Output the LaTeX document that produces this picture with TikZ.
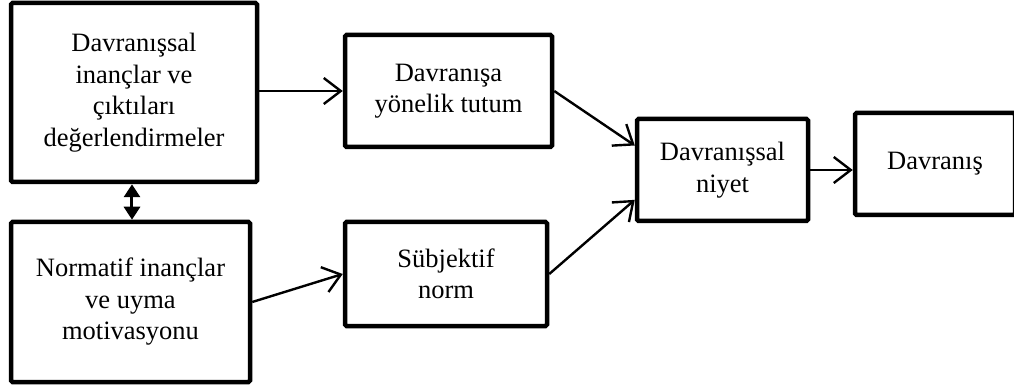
\documentclass[tikz,border=0pt]{standalone}
\usepackage{fontspec}
\setmainfont{Liberation Serif}
\usetikzlibrary{arrows.meta,calc}
\begin{document}
\begin{tikzpicture}[x=1pt,y=-1pt,
  box/.style={draw, line width=4.5pt, rounded corners=1.5pt, align=center, inner sep=0pt,
    font=\fontsize{26.5}{31.5}\selectfont},
  conn/.style={line width=2.4pt, -{Straight Barb[length=17pt,width=26pt,line width=2.4pt]}},
  dbl/.style={line width=3pt, {Triangle[length=13pt,width=16pt]}-{Triangle[length=13pt,width=16pt]}}]
\useasboundingbox (0,0) rectangle (1014,387);
\clip (0,0) rectangle (1014,387);
\node[box, minimum width=246pt, minimum height=179pt] (A) at (134,92.5)
  {Davranışsal\\inançlar ve\\çıktıları\\değerlendirmeler};
\node[box, minimum width=239pt, minimum height=160pt] (B) at (130.5,302)
  {Normatif inançlar\\ve uyma\\motivasyonu};
\node[box, minimum width=207pt, minimum height=112pt] (C) at (448.5,91)
  {Davranışa\\yönelik tutum};
\node[box, minimum width=202pt, minimum height=104pt] (D) at (446,274)
  {Sübjektif\\norm};
\node[box, minimum width=171pt, minimum height=102pt] (E) at (722.5,170)
  {Davranışsal\\niyet};
\node[box, minimum width=160pt, minimum height=102pt] (F) at (935,164)
  {Davranış};
\coordinate (ab) at ($(A.south west)!0.492!(A.south east)$);
\coordinate (e1) at ($(E.north west)!0.27!(E.south west)$);
\coordinate (e2) at ($(E.north west)!0.78!(E.south west)$);
\draw[conn] (A.east |- C.west) -- (C.west);
\draw[conn] (B.east) -- (D.west);
\draw[conn] (C.east) -- (e1);
\draw[conn] (D.east) -- (e2);
\draw[conn] (E.east) -- (E.east -| F.west);
\draw[dbl] (ab) -- (ab |- B.north);
\end{tikzpicture}
\end{document}
